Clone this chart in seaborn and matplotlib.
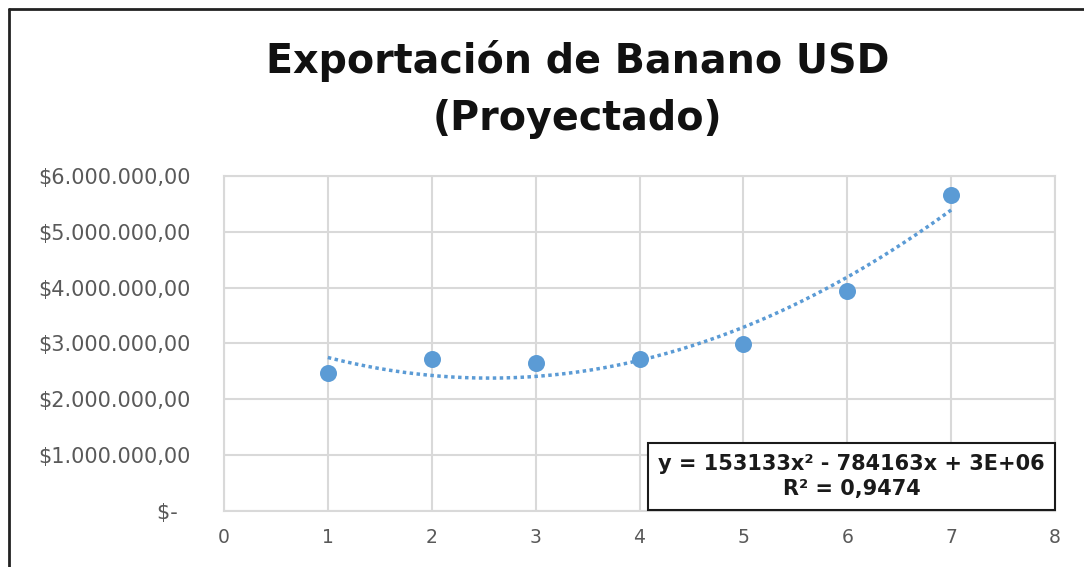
import numpy as np
import pandas as pd
import seaborn as sns
import matplotlib.pyplot as plt
from matplotlib.ticker import FuncFormatter
from matplotlib.lines import Line2D

# Datos
periodos = [1, 2, 3, 4, 5, 6, 7]
exportacion_usd = [2470000, 2720000, 2650000, 2720000, 2990000, 3940000, 5650000]
etiqueta_ecuacion = "y = 153133x² - 784163x + 3E+06\nR² = 0,9474"

df = pd.DataFrame({"Periodo": periodos, "Exportacion": exportacion_usd})

# Línea de tendencia polinómica (grado 2)
coef = np.polyfit(df["Periodo"], df["Exportacion"], 2)
x_fit = np.linspace(1, 7, 200)
tendencia = pd.DataFrame({"Periodo": x_fit, "Exportacion": np.polyval(coef, x_fit)})

sns.set_style("white")
plt.rcParams['font.family'] = ['DejaVu Sans']

azul = "#5B9BD5"
gris_txt = "#595959"
gris_grid = "#D9D9D9"

fig = plt.figure(figsize=(10.84, 5.67), dpi=100)
ax = fig.add_axes([0.2066, 0.0988, 0.7667, 0.5912])

sns.lineplot(data=tendencia, x="Periodo", y="Exportacion", ax=ax, color=azul,
             linestyle=(0, (1, 1)), linewidth=2.5, zorder=3)
sns.scatterplot(data=df, x="Periodo", y="Exportacion", ax=ax, color=azul,
                s=150, edgecolor=azul, linewidth=0, zorder=4)

ax.set_xlim(0, 8)
ax.set_ylim(0, 6000000)
ax.set_xticks(range(0, 9))
ax.set_yticks(range(0, 6000001, 1000000))


def formato_usd(v, pos):
    if v == 0:
        return "$-  "
    return "$" + f"{v:,.2f}".replace(",", "X").replace(".", ",").replace("X", ".")


ax.yaxis.set_major_formatter(FuncFormatter(formato_usd))
ax.grid(True, color=gris_grid, linewidth=1.5)
ax.set_axisbelow(True)
for s in ax.spines.values():
    s.set_color(gris_grid)
    s.set_linewidth(1.5)
ax.tick_params(length=0, labelsize=13.5, colors=gris_txt)
ax.tick_params(axis="y", labelsize=15, pad=24)
ax.tick_params(axis="x", pad=12)
ax.set_xlabel("")
ax.set_ylabel("")

# Cuadro con la ecuación
ax.text(6.04, 617000, etiqueta_ecuacion, ha="center", va="center",
        fontsize=15, fontweight="bold", color="#1a1a1a", linespacing=1.35,
        bbox=dict(boxstyle="square,pad=0.5", facecolor="white", edgecolor="#1a1a1a", linewidth=1.5),
        zorder=5, clip_on=False)

fig.text(0.533, 1 - 73 / 567, "Exportación de Banano USD", ha="center", va="baseline",
         fontsize=28.5, fontweight="bold", color="#111111")
fig.text(0.533, 1 - 130 / 567, "(Proyectado)", ha="center", va="baseline",
         fontsize=28.5, fontweight="bold", color="#111111")

# Marco del área del gráfico
fig.add_artist(Line2D([0.0085, 0.0085], [0, 0.984], color="#222222", linewidth=2))
fig.add_artist(Line2D([0.0085, 1], [0.984, 0.984], color="#222222", linewidth=2))

plt.savefig("out.png", dpi=100)
